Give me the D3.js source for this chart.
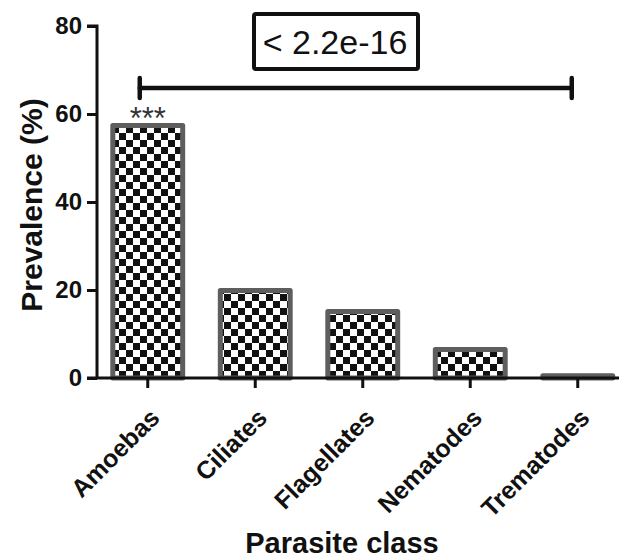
<!DOCTYPE html>
<html>
<head>
<meta charset="utf-8">
<script src="https://cdn.jsdelivr.net/npm/d3@7"></script>
<style>
  body { margin: 0; background: #fff; }
  text { font-family: "Liberation Sans", Arial, sans-serif; }
</style>
</head>
<body>
<div class="canvas"></div>
<script>
// data
const categories = ['Amoebas', 'Ciliates', 'Flagellates', 'Nematodes', 'Trematodes'];
const prevalence = [57.4, 19.9, 15.1, 6.5, 0.5];
const yTicks = [0, 20, 40, 60, 80];
const pLabel = '< 2.2e-16';
const starLabel = '***';

const data = categories.map((c, i) => ({name: c, value: prevalence[i]}));

const svg = d3.select('.canvas')
    .append('svg')
    .attr('width', 619)
    .attr('height', 559);

// pattern for the bars
const defs = svg.append('defs');
const cell = 7;
const pat = defs.append('pattern')
    .attr('id', 'checker')
    .attr('patternUnits', 'userSpaceOnUse')
    .attr('width', cell * 2)
    .attr('height', cell * 2);
pat.append('rect').attr('width', cell * 2).attr('height', cell * 2).attr('fill', '#fff');
pat.append('rect').attr('width', cell).attr('height', cell).attr('fill', '#111');
pat.append('rect').attr('x', cell).attr('y', cell).attr('width', cell).attr('height', cell).attr('fill', '#111');

const axisX = 97;     // where the y axis sits
const y = d3.scaleLinear()
    .domain([0, 80])
    .range([378, 26]);

const x = d3.scaleBand()
    .domain(categories)
    .range([94, 631.5])
    .paddingInner(0.35)
    .paddingOuter(0.175);

// bars
svg.append('g').selectAll('rect')
    .data(data)
    .enter()
    .append('rect')
    .attr('x', d => x(d.name))
    .attr('width', x.bandwidth())
    .attr('y', d => y(d.value))
    .attr('height', d => y(0) - y(d.value))
    .attr('fill', 'url(#checker)')
    .attr('stroke', '#5e5e5e')
    .attr('stroke-width', 5)
    .attr('stroke-linejoin', 'round');

// y axis
const yAxis = d3.axisLeft(y)
    .tickValues(yTicks)
    .tickSize(10)
    .tickPadding(5);
const yAxisGroup = svg.append('g')
    .attr('transform', `translate(${axisX},0)`)
    .call(yAxis);
yAxisGroup.select('.domain')
    .attr('d', `M-10,${y(80)}H0V${y(0)}`)
    .attr('stroke', '#111')
    .attr('stroke-width', 3);
yAxisGroup.selectAll('.tick line').attr('stroke', '#111').attr('stroke-width', 3);
yAxisGroup.selectAll('.tick text')
    .attr('font-size', 24)
    .attr('font-weight', 'bold')
    .attr('fill', '#111')
    .attr('font-family', '"Liberation Sans", Arial, sans-serif');

// x axis
const xAxis = d3.axisBottom(x).tickSize(10).tickPadding(6);
const xAxisGroup = svg.append('g')
    .attr('transform', `translate(0,${y(0)})`)
    .call(xAxis);
xAxisGroup.select('.domain').remove();
xAxisGroup.append('line')
    .attr('x1', axisX - 10).attr('x2', 619)
    .attr('y1', 0).attr('y2', 0)
    .attr('stroke', '#111')
    .attr('stroke-width', 3);
xAxisGroup.selectAll('.tick line').attr('stroke', '#111').attr('stroke-width', 3);
xAxisGroup.selectAll('.tick text')
    .attr('font-size', 25)
    .attr('font-weight', 'bold')
    .attr('fill', '#111')
    .attr('font-family', '"Liberation Sans", Arial, sans-serif')
    .attr('text-anchor', 'end')
    .attr('dy', 0)
    .attr('transform', 'translate(2,30) rotate(-45)');

// axis titles
svg.append('text')
    .attr('transform', `translate(42,205) rotate(-90)`)
    .attr('text-anchor', 'middle')
    .attr('font-size', 30)
    .attr('font-weight', 'bold')
    .attr('fill', '#111')
    .text('Prevalence (%)');

svg.append('text')
    .attr('x', 342)
    .attr('y', 553)
    .attr('text-anchor', 'middle')
    .attr('font-size', 29)
    .attr('font-weight', 'bold')
    .attr('fill', '#111')
    .text('Parasite class');

// significance bracket, first to last category
const bx1 = x(categories[0]) + x.bandwidth() / 2 - 8;
const bx2 = x(categories[categories.length - 1]) + x.bandwidth() / 2 - 6;
const by = 88;
const br = svg.append('g').attr('stroke', '#111').attr('stroke-width', 4.5).attr('stroke-linecap', 'round');
br.append('line').attr('x1', bx1).attr('x2', bx2).attr('y1', by).attr('y2', by);
br.append('line').attr('x1', bx1).attr('x2', bx1).attr('y1', by - 10).attr('y2', by + 10);
br.append('line').attr('x1', bx2).attr('x2', bx2).attr('y1', by - 10).attr('y2', by + 10);

// p value box
svg.append('rect')
    .attr('x', 254).attr('y', 14)
    .attr('width', 164).attr('height', 55)
    .attr('rx', 2)
    .attr('fill', '#fff')
    .attr('stroke', '#111')
    .attr('stroke-width', 4);
svg.append('text')
    .attr('x', 335)
    .attr('y', 54)
    .attr('text-anchor', 'middle')
    .attr('font-size', 34)
    .attr('fill', '#111')
    .text(pLabel);

// stars above first bar
svg.append('text')
    .attr('x', x(categories[0]) + x.bandwidth() / 2)
    .attr('y', 129)
    .attr('text-anchor', 'middle')
    .attr('font-size', 31)
    .attr('fill', '#333')
    .text(starLabel);
</script>
</body>
</html>
